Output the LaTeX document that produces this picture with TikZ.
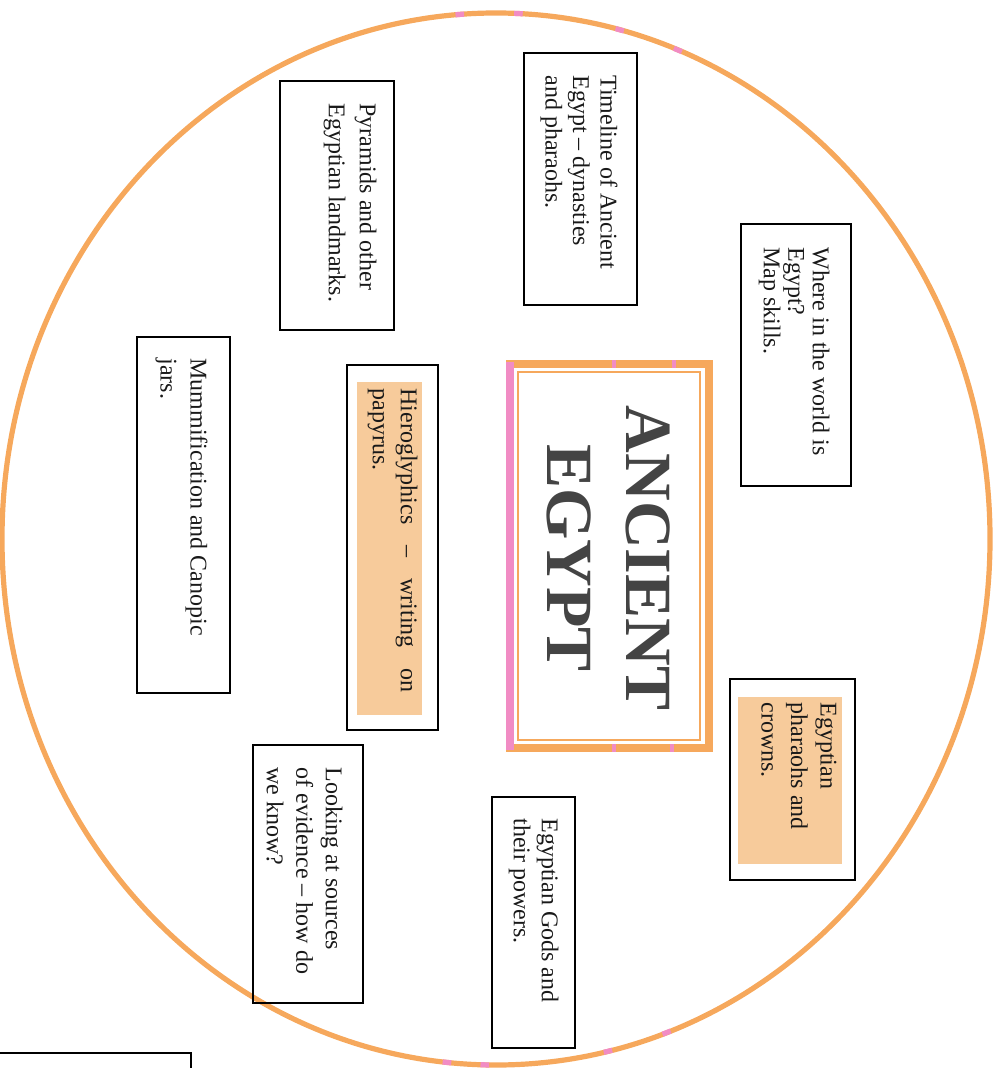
\documentclass[tikz,border=0pt]{standalone}
\usepackage{fontspec}
\setmainfont{Liberation Serif}
\definecolor{RingClr}{RGB}{246,168,92}
\definecolor{PinkClr}{RGB}{241,140,196}
\definecolor{NoteClr}{RGB}{247,203,155}
\definecolor{TitleClr}{RGB}{68,68,68}

\begin{document}
\begin{tikzpicture}[x=0.5pt,y=-0.5pt,
  frame/.style={line width=1pt,color=black},
  note/.style={fill=NoteClr,draw=none},
  topic/.style={rotate=-90,anchor=north west,align=left,inner sep=0pt,
    text=black!90,font=\fontsize{12}{14.5}\selectfont}]
\useasboundingbox (0,0) rectangle (1001,1068);

% the big ring
\draw[RingClr,line width=2.6pt] (496,539) ellipse [x radius=494,y radius=526];
\foreach \t in {94.2,87.4,75.5,68.4,264.3,268.7,283.1,290.2}
  \draw[PinkClr,line width=2.6pt] plot[domain=\t-0.5:\t+0.5,samples=6]
    ({496+494*cos(\x)},{539-526*sin(\x)});

% title
\draw[RingClr,line width=4pt] (510,364) rectangle (709,748);
\draw[PinkClr,line width=4pt] (510,362) -- (510,750);
\draw[PinkClr,line width=4pt] (612,364) -- (616,364) (672,364) -- (676,364)
  (612,748) -- (616,748) (670,748) -- (674,748);
\draw[RingClr,line width=0.8pt] (518,372) rectangle (700,740);
\node[rotate=-90,align=center,inner sep=0pt,text=TitleClr,
  font=\fontsize{33}{39.5}\bfseries] (title) at (609,558) {ANCIENT\\EGYPT};

% topic boxes
\draw[frame] (524,53) rectangle (637,305);
\node[topic,font=\fontsize{12}{13.75}\selectfont] (timeline) at (618,75)
  {Timeline of Ancient\\Egypt -- dynasties\\and pharaohs.};

\draw[frame] (280,81) rectangle (394,330);
\node[topic,font=\fontsize{12}{15.5}\selectfont] (pyramids) at (377,103)
  {Pyramids and other\\Egyptian landmarks.};

\draw[frame] (741,224) rectangle (851,486);
\node[topic,font=\fontsize{12}{12.3}\selectfont] (where) at (830,247)
  {Where in the world is\\Egypt?\\Map skills.};

\draw[frame] (137,337) rectangle (230,693);
\node[topic,font=\fontsize{12}{15}\selectfont] (mummy) at (208,358)
  {Mummification and Canopic\\jars.};

\draw[frame] (347,365) rectangle (438,730);
\fill[note] (357,382) rectangle (422,715);
\node[topic,font=\fontsize{12}{14}\selectfont] (hiero) at (418,388)
  {Hieroglyphics\hspace{10.5pt}--\hspace{10.5pt}writing\hspace{10.5pt}on\\papyrus.};

\draw[frame] (730,679) rectangle (855,880);
\fill[note] (738,697) rectangle (842,864);
\node[topic,font=\fontsize{12}{14.75}\selectfont] (crowns) at (837,702)
  {Egyptian\\pharaohs and\\crowns.};

\draw[frame] (253,745) rectangle (363,1003);
\node[topic,font=\fontsize{12}{14.75}\selectfont] (sources) at (343,767)
  {Looking at sources\\of evidence -- how do\\we know?};

\draw[frame] (492,797) rectangle (575,1048);
\node[topic,font=\fontsize{12}{14}\selectfont] (gods) at (559,818)
  {Egyptian Gods and\\their powers.};

% corner of the next sheet
\draw[frame] (-5,1053) -- (191,1053) -- (191,1080);
\end{tikzpicture}
\end{document}
